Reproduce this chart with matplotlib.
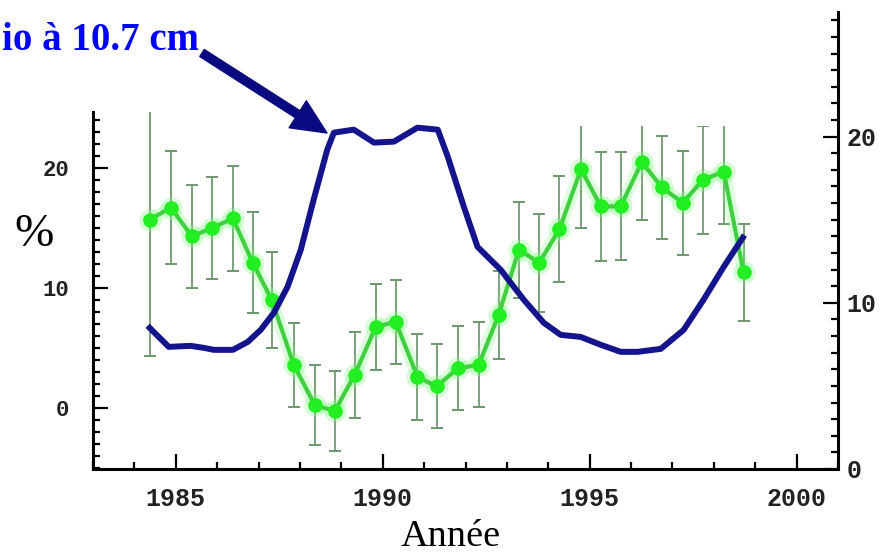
import numpy as np
import matplotlib.pyplot as plt
from matplotlib.patches import Polygon

# green series: percentage with error bars (left axis)
years_pct = [1984.37, 1984.88, 1985.39, 1985.87, 1986.38, 1986.86, 1987.32, 1987.85,
             1988.36, 1988.84, 1989.32, 1989.83, 1990.31, 1990.84, 1991.30, 1991.81,
             1992.32, 1992.80, 1993.29, 1993.78, 1994.27, 1994.79, 1995.27, 1995.75,
             1996.26, 1996.74, 1997.25, 1997.73, 1998.24, 1998.72]
pct = [15.7, 16.7, 14.3, 15.0, 15.8, 12.1, 9.0, 3.6, 0.25, -0.25, 2.75, 6.75, 7.2, 2.6,
       1.8, 3.3, 3.6, 7.75, 13.2, 12.1, 14.9, 19.9, 16.8, 16.8, 20.5, 18.4, 17.1, 19.0,
       19.7, 11.3]
pct_err = [11.4, 4.7, 4.3, 4.25, 4.4, 4.2, 4.0, 3.5, 3.3, 3.3, 3.6, 3.6, 3.5, 3.6, 3.5,
           3.5, 3.55, 3.7, 4.0, 4.1, 4.4, 4.9, 4.55, 4.5, 4.8, 4.3, 4.35, 4.5, 4.4, 4.05]

# blue series: 10.7 cm radio flux (right axis)
years_flux = [1984.37, 1984.83, 1985.36, 1985.68, 1985.92, 1986.38, 1986.74, 1987.05,
              1987.37, 1987.70, 1988.02, 1988.33, 1988.66, 1988.82, 1989.30, 1989.79,
              1990.27, 1990.84, 1991.33, 1991.57, 1991.96, 1992.29, 1992.85, 1993.41,
              1993.89, 1994.30, 1994.78, 1995.27, 1995.75, 1996.16, 1996.72, 1997.27,
              1997.75, 1998.24, 1998.70]
flux = [8.49, 7.35, 7.41, 7.29, 7.17, 7.17, 7.65, 8.37, 9.40, 10.96, 13.19, 16.20, 19.22,
        20.24, 20.42, 19.64, 19.70, 20.54, 20.42, 18.80, 15.78, 13.37, 11.99, 10.18, 8.80,
        8.07, 7.95, 7.47, 7.05, 7.05, 7.23, 8.37, 10.18, 12.17, 13.92]

W, H = 887, 555
fig = plt.figure(figsize=(W / 100, H / 100), dpi=100)
ax = fig.add_axes([93 / W, 1 - 469 / H, (838 - 93) / W, (469 - 12) / H])
ax.set_xlim(1983, 2001)
ax.set_ylim(-5.08, 33.0)
ax2 = ax.twinx()
ax2.set_ylim(0, 27.5)

tick_font = dict(family="Liberation Mono", weight="bold", color="#222222")

for a in (ax, ax2):
    a.spines["top"].set_visible(False)
    for s in a.spines.values():
        s.set_linewidth(2.2)
ax.spines["right"].set_visible(False)
ax2.spines["left"].set_visible(False)
ax2.spines["bottom"].set_visible(False)
ax.spines["left"].set_bounds(-5.08, 24.7)

ax.set_xticks([1985, 1990, 1995, 2000])
ax.set_xticks(np.arange(1983, 2002), minor=True)
ax.set_yticks([0, 10, 20])
ax.set_yticks(np.arange(-5, 25), minor=True)
ax2.set_yticks([0, 10, 20])
ax2.set_yticks(np.arange(0, 28), minor=True)

ax.tick_params(which="both", direction="in", width=1.6, top=False, right=False)
ax.tick_params(which="major", length=11)
ax.tick_params(which="minor", length=5)
ax.tick_params(axis="x", pad=13, labelsize=18)
ax.tick_params(axis="y", pad=17, labelsize=16)
ax2.tick_params(which="both", direction="in", width=1.6, pad=6, labelsize=18)
ax2.tick_params(which="major", length=11)
ax2.tick_params(which="minor", length=5)
for lab in ax.get_xticklabels() + ax.get_yticklabels() + ax2.get_yticklabels():
    lab.set(**tick_font)

# error bars are cut at the top of the frame
clip = Polygon([(1983, -5.08), (1983, 24.7), (1985, 24.7), (1985, 23.5),
                (2001, 23.5), (2001, -5.08)], closed=True, transform=ax.transData)
eb = ax.errorbar(years_pct, pct, yerr=pct_err, fmt="none", ecolor="#6f9a6f",
                 elinewidth=1.3, capsize=4, capthick=1.3, zorder=2)
for art in list(eb.lines[1]) + list(eb.lines[2]):
    art.set_clip_path(clip)

# soft glow under the green curve
ax.plot(years_pct, pct, "-o", color="#7dff7d", lw=9, ms=15, alpha=0.25, zorder=2.5)
ax.plot(years_pct, pct, "-o", color="#3fcf3f", lw=3, ms=9.5,
        mfc="#22ee22", mec="#22ee22", zorder=3)

ax2.plot(years_flux, flux, color="#14148c", lw=4.3, solid_joinstyle="round", zorder=4)

fig.text(199 / W, 1 - 50 / H, "io à 10.7 cm", ha="right", va="baseline",
         fontsize=28, fontweight="bold", family="Liberation Serif", color="#0000ff")
ax.annotate("", xy=(327, H - 133), xycoords="figure pixels",
            xytext=(202, H - 53), textcoords="figure pixels",
            arrowprops=dict(width=6, headwidth=23, headlength=25, color="#0a0a80", shrink=0),
            annotation_clip=False)

fig.text(34 / W, 1 - 235 / H, "%", ha="center", va="center", fontsize=34,
         family="Liberation Serif")
fig.text(451 / W, 1 - 546 / H, "Année", ha="center", va="baseline", fontsize=27.5,
         family="Liberation Serif")

fig.savefig("out.png", dpi=100)
